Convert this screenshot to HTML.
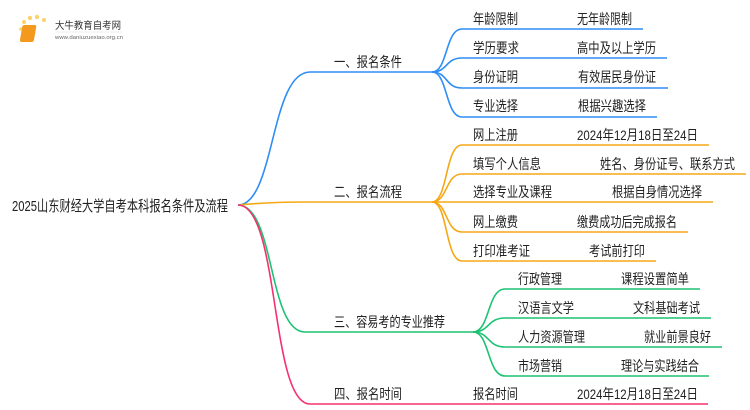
<!DOCTYPE html>
<html><head><meta charset="utf-8"><style>
html,body{margin:0;padding:0;background:#fff;width:750px;height:410px;overflow:hidden}
text{font-family:"Liberation Sans","Noto Sans CJK SC",sans-serif;font-size:14px;fill:#222}
</style></head><body>
<svg width="750" height="410" viewBox="0 0 750 410" xmlns="http://www.w3.org/2000/svg">
<g>
<circle cx="24" cy="22" r="2" fill="#fbd36b"/><circle cx="30" cy="18" r="2.2" fill="#fbd36b"/><circle cx="37" cy="17" r="2.2" fill="#fbd36b"/><circle cx="44" cy="20" r="2" fill="#fbd36b"/><circle cx="21" cy="29" r="1.8" fill="#fbd36b"/><circle cx="22" cy="37" r="1.5" fill="#fde3a0"/>
<rect x="27" y="25" width="14" height="17" rx="2" fill="#f39a1e" transform="skewX(-10)"/>
<text x="55" y="29" style="font-size:10px;fill:#333" textLength="66" lengthAdjust="spacingAndGlyphs">大牛教育自考网</text>
<line x1="55" y1="32" x2="122" y2="32" stroke="#ddd" stroke-width="0.6"/>
<text x="55" y="39" style="font-size:5px;fill:#666" textLength="68" lengthAdjust="spacingAndGlyphs">www.daniuzuexiao.org.cn</text>
</g>
<text x="12" y="211" style="font-size:15px" textLength="216" lengthAdjust="spacingAndGlyphs">2025山东财经大学自考本科报名条件及流程</text>
<g fill="none" stroke-width="1.6">
<path d="M238,205 C275,205 270,72 310,72 L432,72" stroke="#2e8ef5"/>
<path d="M238,205 C260,203 280,202 305,202 L432,202" stroke="#f5a816"/>
<path d="M238,205 C275,205 268,332 305,332 L473,332" stroke="#1dc273"/>
<path d="M238,205 C280,205 270,404 310,404 L708,404" stroke="#f5316f"/>
<g stroke="#2e8ef5">
<path d="M432,72 C448,72 445,29 462,29 L643,29"/>
<path d="M432,72 C448,72 445,58 462,58 L667,58"/>
<path d="M432,72 C448,72 445,88 462,88 L668,88"/>
<path d="M432,72 C448,72 445,117 462,117 L657,117"/>
</g>
<g stroke="#f5a816">
<path d="M432,202 C448,202 445,145 462,145 L709,145"/>
<path d="M432,202 C448,202 445,174 462,174 L746,174"/>
<path d="M432,202 L713,202"/>
<path d="M432,202 C448,202 445,232 462,232 L688,232"/>
<path d="M432,202 C448,202 445,261 462,261 L656,261"/>
</g>
<g stroke="#1dc273">
<path d="M473,332 C490,332 487,289 505,289 L700,289"/>
<path d="M473,332 C490,332 487,318 505,318 L711,318"/>
<path d="M473,332 C490,332 487,347 505,347 L722,347"/>
<path d="M473,332 C490,332 487,376 505,376 L709,376"/>
</g>
</g>
<text x="334" y="67" textLength="68" lengthAdjust="spacingAndGlyphs">一、报名条件</text>
<text x="334" y="197" textLength="68" lengthAdjust="spacingAndGlyphs">二、报名流程</text>
<text x="334" y="327" textLength="111" lengthAdjust="spacingAndGlyphs">三、容易考的专业推荐</text>
<text x="334" y="399" textLength="68" lengthAdjust="spacingAndGlyphs">四、报名时间</text>
<text x="473" y="24" textLength="45" lengthAdjust="spacingAndGlyphs">年龄限制</text>
<text x="577" y="24" textLength="55" lengthAdjust="spacingAndGlyphs">无年龄限制</text>
<text x="473" y="53" textLength="46" lengthAdjust="spacingAndGlyphs">学历要求</text>
<text x="577" y="53" textLength="79" lengthAdjust="spacingAndGlyphs">高中及以上学历</text>
<text x="473" y="82" textLength="45" lengthAdjust="spacingAndGlyphs">身份证明</text>
<text x="578" y="82" textLength="78" lengthAdjust="spacingAndGlyphs">有效居民身份证</text>
<text x="473" y="111" textLength="45" lengthAdjust="spacingAndGlyphs">专业选择</text>
<text x="578" y="111" textLength="68" lengthAdjust="spacingAndGlyphs">根据兴趣选择</text>
<text x="473" y="140" textLength="45" lengthAdjust="spacingAndGlyphs">网上注册</text>
<text x="577" y="140" textLength="121" lengthAdjust="spacingAndGlyphs">2024年12月18日至24日</text>
<text x="473" y="169" textLength="68" lengthAdjust="spacingAndGlyphs">填写个人信息</text>
<text x="600" y="169" textLength="135" lengthAdjust="spacingAndGlyphs">姓名、身份证号、联系方式</text>
<text x="473" y="197" textLength="79" lengthAdjust="spacingAndGlyphs">选择专业及课程</text>
<text x="612" y="197" textLength="90" lengthAdjust="spacingAndGlyphs">根据自身情况选择</text>
<text x="473" y="227" textLength="45" lengthAdjust="spacingAndGlyphs">网上缴费</text>
<text x="577" y="227" textLength="100" lengthAdjust="spacingAndGlyphs">缴费成功后完成报名</text>
<text x="473" y="256" textLength="57" lengthAdjust="spacingAndGlyphs">打印准考证</text>
<text x="589" y="256" textLength="56" lengthAdjust="spacingAndGlyphs">考试前打印</text>
<text x="518" y="284" textLength="44" lengthAdjust="spacingAndGlyphs">行政管理</text>
<text x="621" y="284" textLength="68" lengthAdjust="spacingAndGlyphs">课程设置简单</text>
<text x="518" y="313" textLength="56" lengthAdjust="spacingAndGlyphs">汉语言文学</text>
<text x="633" y="313" textLength="67" lengthAdjust="spacingAndGlyphs">文科基础考试</text>
<text x="518" y="342" textLength="67" lengthAdjust="spacingAndGlyphs">人力资源管理</text>
<text x="644" y="342" textLength="67" lengthAdjust="spacingAndGlyphs">就业前景良好</text>
<text x="518" y="371" textLength="44" lengthAdjust="spacingAndGlyphs">市场营销</text>
<text x="621" y="371" textLength="78" lengthAdjust="spacingAndGlyphs">理论与实践结合</text>
<text x="473" y="399" textLength="45" lengthAdjust="spacingAndGlyphs">报名时间</text>
<text x="577" y="399" textLength="121" lengthAdjust="spacingAndGlyphs">2024年12月18日至24日</text>
</svg>
</body></html>
